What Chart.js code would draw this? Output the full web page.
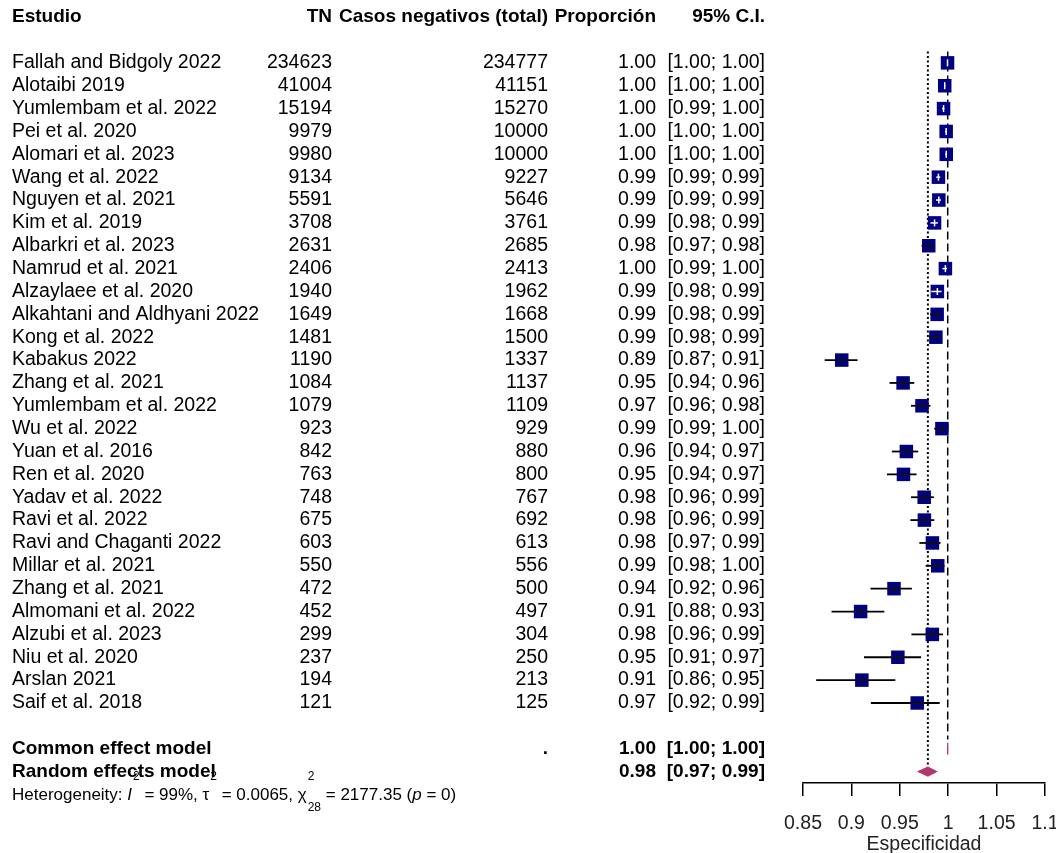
<!DOCTYPE html>
<html lang="es">
<head>
<meta charset="utf-8">
<title>Especificidad</title>
<script src="https://cdn.jsdelivr.net/npm/chart.js@4.4.1/dist/chart.umd.min.js"></script>
<style>
  html, body { margin: 0; padding: 0; background: #fff; }
  canvas { display: block; }
</style>
</head>
<body>
<canvas id="forest" width="1056" height="853"></canvas>
<script>
// study rows
const studies = [
  'Fallah and Bidgoly 2022', 'Alotaibi 2019', 'Yumlembam et al. 2022', 'Pei et al. 2020',
  'Alomari et al. 2023', 'Wang et al. 2022', 'Nguyen et al. 2021', 'Kim et al. 2019',
  'Albarkri et al. 2023', 'Namrud et al. 2021', 'Alzaylaee et al. 2020', 'Alkahtani and Aldhyani 2022',
  'Kong et al. 2022', 'Kabakus 2022', 'Zhang et al. 2021', 'Yumlembam et al. 2022',
  'Wu et al. 2022', 'Yuan et al. 2016', 'Ren et al. 2020', 'Yadav et al. 2022',
  'Ravi et al. 2022', 'Ravi and Chaganti 2022', 'Millar et al. 2021', 'Zhang et al. 2021',
  'Almomani et al. 2022', 'Alzubi et al. 2023', 'Niu et al. 2020', 'Arslan 2021', 'Saif et al. 2018'
];
const tn = [234623, 41004, 15194, 9979, 9980, 9134, 5591, 3708, 2631, 2406, 1940, 1649, 1481, 1190,
  1084, 1079, 923, 842, 763, 748, 675, 603, 550, 472, 452, 299, 237, 194, 121];
const totals = [234777, 41151, 15270, 10000, 10000, 9227, 5646, 3761, 2685, 2413, 1962, 1668, 1500, 1337,
  1137, 1109, 929, 880, 800, 767, 692, 613, 556, 500, 497, 304, 250, 213, 125];
const prop = [0.9993, 0.9964, 0.9952, 0.9979, 0.9980, 0.9899, 0.9903, 0.9859, 0.9799, 0.9971,
  0.9888, 0.9886, 0.9873, 0.8900, 0.9534, 0.9729, 0.9935, 0.9568, 0.9538, 0.9752,
  0.9754, 0.9837, 0.9892, 0.9440, 0.9095, 0.9836, 0.9480, 0.9108, 0.9680];
const ciLower = [0.9992, 0.9958, 0.9938, 0.9968, 0.9969, 0.9877, 0.9874, 0.9817, 0.9725, 0.9940,
  0.9826, 0.9815, 0.9803, 0.8724, 0.9394, 0.9615, 0.9855, 0.9418, 0.9367, 0.9616,
  0.9609, 0.9702, 0.9767, 0.9197, 0.8795, 0.9620, 0.9130, 0.8636, 0.9201];
const ciUpper = [0.9995, 0.9970, 0.9961, 0.9987, 0.9988, 0.9918, 0.9926, 0.9893, 0.9848, 0.9988,
  0.9931, 0.9931, 0.9924, 0.9063, 0.9649, 0.9817, 0.9976, 0.9690, 0.9673, 0.9852,
  0.9857, 0.9921, 0.9960, 0.9625, 0.9340, 0.9946, 0.9720, 0.9454, 0.9912];

// pooled estimates
const modelNames = ['Common effect model', 'Random effects model'];
const modelEst = [0.9995, 0.979];
const modelLower = [0.9994, 0.969];
const modelUpper = [0.9996, 0.988];

// heterogeneity statistics
const hetI2 = '99%';
const hetTau2 = '0.0065';
const hetQ = '2177.35';
const hetDf = '28';
const hetP = '0';

const tickValues = [0.85, 0.9, 0.95, 1, 1.05, 1.1];
const tickLabels = ['0.85', '0.9', '0.95', '1', '1.05', '1.1'];

const FAMILY = '"Liberation Sans", Arial, sans-serif';
const BOX = '#000080';
const DIAMOND = '#b3386a';
const BOX_SIDE = 13.5;

const headerRow = -2;
const modelRow = k => studies.length + 1 + k;
const hetRow = studies.length + 3.05;

function put(ctx, s, x, y, align, font) {
  ctx.font = font;
  ctx.textAlign = align;
  ctx.fillText(s, x, y);
}

function hline(ctx, x0, x1, y, color, w) {
  ctx.beginPath();
  ctx.strokeStyle = color;
  ctx.lineWidth = w;
  ctx.moveTo(x0, y);
  ctx.lineTo(x1, y);
  ctx.stroke();
}

const forestPlugin = {
  id: 'forest',
  beforeDatasetsDraw(chart) {
    const { ctx, scales: { x, y } } = chart;
    ctx.save();
    // common (dashed) and random (dotted) effect lines
    ctx.strokeStyle = '#000';
    ctx.lineWidth = 1.5;
    ctx.setLineDash([8, 4]);
    ctx.beginPath();
    ctx.moveTo(x.getPixelForValue(modelEst[0]), y.getPixelForValue(-0.5));
    ctx.lineTo(x.getPixelForValue(modelEst[0]), y.getPixelForValue(modelRow(0) - 0.4));
    ctx.stroke();
    ctx.lineWidth = 2;
    ctx.setLineDash([2, 2.5]);
    ctx.beginPath();
    ctx.moveTo(x.getPixelForValue(modelEst[1]), y.getPixelForValue(-0.5));
    ctx.lineTo(x.getPixelForValue(modelEst[1]), y.getPixelForValue(modelRow(1) - 0.2));
    ctx.stroke();
    ctx.setLineDash([]);
    // confidence intervals wider than the box
    studies.forEach((s, i) => {
      const xl = x.getPixelForValue(ciLower[i]);
      const xh = x.getPixelForValue(ciUpper[i]);
      const xc = x.getPixelForValue(prop[i]);
      const inside = xl >= xc - BOX_SIDE / 2 && xh <= xc + BOX_SIDE / 2;
      if (!inside) hline(ctx, xl, xh, y.getPixelForValue(i), '#000', 1.8);
    });
    ctx.restore();
  },
  afterDatasetsDraw(chart) {
    const { ctx, scales: { x, y } } = chart;
    ctx.save();
    studies.forEach((s, i) => {
      const xl = x.getPixelForValue(ciLower[i]);
      const xh = x.getPixelForValue(ciUpper[i]);
      const xc = x.getPixelForValue(prop[i]);
      const yc = y.getPixelForValue(i);
      const half = BOX_SIDE / 2;
      const inside = xl >= xc - half && xh <= xc + half;
      const col = inside ? '#fff' : '#111';
      hline(ctx, Math.max(xl, xc - half), Math.min(xh, xc + half), yc, col, 1.5);
      ctx.beginPath();
      ctx.strokeStyle = col;
      ctx.lineWidth = 1.5;
      ctx.moveTo(xc, yc - 3.5);
      ctx.lineTo(xc, yc + 3.5);
      ctx.stroke();
    });
    // pooled diamonds
    const dh = [6, 4.5];
    modelEst.forEach((m, k) => {
      const yc = y.getPixelForValue(modelRow(k));
      ctx.beginPath();
      ctx.moveTo(x.getPixelForValue(modelLower[k]), yc);
      ctx.lineTo(x.getPixelForValue(m), yc - dh[k]);
      ctx.lineTo(x.getPixelForValue(modelUpper[k]), yc);
      ctx.lineTo(x.getPixelForValue(m), yc + dh[k]);
      ctx.closePath();
      ctx.fillStyle = DIAMOND;
      ctx.strokeStyle = DIAMOND;
      ctx.lineWidth = 1.2;
      ctx.fill();
      ctx.stroke();
    });
    ctx.restore();
  },
  afterDraw(chart) {
    const { ctx, scales: { y } } = chart;
    const reg = '19.5px ' + FAMILY;
    const bold = 'bold 19px ' + FAMILY;
    const cols = { name: 12, tn: 332, total: 548, prop: 656, ci: 765 };
    ctx.save();
    ctx.fillStyle = '#000';
    ctx.textBaseline = 'middle';

    const yh = y.getPixelForValue(headerRow);
    put(ctx, 'Estudio', cols.name, yh, 'left', bold);
    put(ctx, 'TN', cols.tn, yh, 'right', bold);
    put(ctx, 'Casos negativos (total)', cols.total, yh, 'right', bold);
    put(ctx, 'Proporción', cols.prop, yh, 'right', bold);
    put(ctx, '95% C.I.', cols.ci, yh, 'right', bold);

    studies.forEach((s, i) => {
      const yr = y.getPixelForValue(i);
      put(ctx, s, cols.name, yr, 'left', reg);
      put(ctx, String(tn[i]), cols.tn, yr, 'right', reg);
      put(ctx, String(totals[i]), cols.total, yr, 'right', reg);
      put(ctx, prop[i].toFixed(2), cols.prop, yr, 'right', reg);
      put(ctx, '[' + ciLower[i].toFixed(2) + '; ' + ciUpper[i].toFixed(2) + ']', cols.ci, yr, 'right', reg);
    });

    modelNames.forEach((n, k) => {
      const yr = y.getPixelForValue(modelRow(k));
      put(ctx, n, cols.name, yr, 'left', bold);
      if (k === 0) put(ctx, '.', cols.total, yr, 'right', bold);
      put(ctx, modelEst[k].toFixed(2), cols.prop, yr, 'right', bold);
      put(ctx, '[' + modelLower[k].toFixed(2) + '; ' + modelUpper[k].toFixed(2) + ']', cols.ci, yr, 'right', bold);
    });

    // heterogeneity line with plotmath-style super/subscripts
    const yt = y.getPixelForValue(hetRow);
    const small = '12px ' + FAMILY;
    const main = '17px ' + FAMILY;
    const ital = 'italic 17px ' + FAMILY;
    const parts = [
      ['Heterogeneity: ', main], ['I', ital], ['2', 'sup'], [' = ' + hetI2 + ', \u03c4', main], ['2', 'sup'],
      [' = ' + hetTau2 + ', \u03c7', main], ['2', 'sup', hetDf], [' = ' + hetQ + ' (', main], ['p', ital], [' = ' + hetP + ')', main]
    ];
    let xt = 12;
    ctx.textAlign = 'left';
    parts.forEach(p => {
      if (p[1] === 'sup') {
        ctx.font = small;
        ctx.fillText(p[0], xt + 1, yt - 19);
        let w = ctx.measureText(p[0]).width;
        if (p[2]) {
          ctx.fillText(p[2], xt + 1, yt + 12);
          w = Math.max(w, ctx.measureText(p[2]).width);
        }
        xt += w + 1;
      } else {
        ctx.font = p[1];
        ctx.fillText(p[0], xt, yt);
        xt += ctx.measureText(p[0]).width;
      }
    });
    ctx.restore();
  }
};

new Chart(document.getElementById('forest'), {
  type: 'scatter',
  data: {
    datasets: [{
      data: studies.map((s, i) => ({ x: prop[i], y: i })),
      pointStyle: 'rect',
      pointRadius: BOX_SIDE / Math.SQRT2,
      pointHoverRadius: BOX_SIDE / Math.SQRT2,
      backgroundColor: BOX,
      borderWidth: 0
    }]
  },
  options: {
    responsive: false,
    animation: false,
    events: [],
    layout: { autoPadding: false, padding: { left: 803, right: 11, top: 0, bottom: 0 } },
    plugins: { legend: { display: false }, tooltip: { enabled: false } },
    scales: {
      x: {
        type: 'linear',
        position: 'bottom',
        min: 0.85,
        max: 1.1,
        afterBuildTicks: axis => { axis.ticks = tickValues.map(v => ({ value: v })); },
        afterFit: axis => {
          // fixed axis band below the plot; no extra room for the edge labels
          axis.height = 70;
          axis.paddingLeft = 0;
          axis.paddingRight = 0;
          axis.paddingTop = 0;
          axis.paddingBottom = 0;
        },
        ticks: {
          callback: (v, idx) => tickLabels[idx],
          color: '#222',
          padding: 18,
          maxRotation: 0,
          minRotation: 0,
          autoSkip: false,
          font: { family: FAMILY, size: 19.5, lineHeight: 1 }
        },
        grid: { drawOnChartArea: false, drawTicks: true, tickLength: 13, color: '#000', lineWidth: 1.5 },
        border: { display: true, color: '#000', width: 1.5 },
        title: {
          display: true,
          text: 'Especificidad',
          color: '#222',
          padding: { top: 0, bottom: -1 },
          font: { family: FAMILY, size: 19.5, lineHeight: 1 }
        }
      },
      y: {
        type: 'linear',
        display: false,
        reverse: true,
        min: headerRow - 0.75,
        max: 31.5
      }
    }
  },
  plugins: [forestPlugin]
});
</script>
</body>
</html>
